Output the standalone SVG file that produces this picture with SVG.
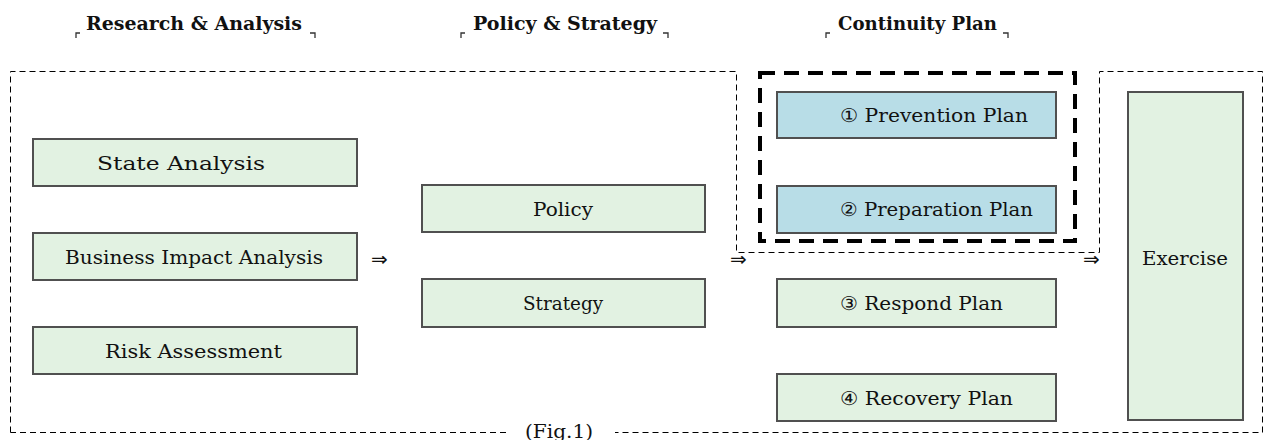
<svg xmlns="http://www.w3.org/2000/svg" width="1270" height="440" viewBox="0 0 1270 440">
<style>
.g{fill:#e2f2e2;stroke:#505050;stroke-width:2}
.b{fill:#b8dde7;stroke:#505050;stroke-width:2}
.t{font-family:"DejaVu Serif","Liberation Serif",serif;font-size:19px;fill:#111}
.h{font-family:"DejaVu Serif","Liberation Serif",serif;font-size:19px;font-weight:bold;fill:#111}
.thin{fill:none;stroke:#000;stroke-width:1;stroke-dasharray:6 4}
.thick{fill:none;stroke:#000;stroke-width:4;stroke-dasharray:15 9}
.br{fill:none;stroke:#333;stroke-width:1.3}
</style>
<rect width="1270" height="440" fill="#fff"/>
<g id="headers">
<text class="h" x="86" y="30" textLength="216" lengthAdjust="spacingAndGlyphs">Research &amp; Analysis</text>
<path class="br" d="M76,38 V33 H80 M310,33 H315 V38"/>
<text class="h" x="473" y="30" textLength="184" lengthAdjust="spacingAndGlyphs">Policy &amp; Strategy</text>
<path class="br" d="M461,38 V33 H465 M663,33 H668 V38"/>
<text class="h" x="838" y="30" textLength="159" lengthAdjust="spacingAndGlyphs">Continuity Plan</text>
<path class="br" d="M826,38 V33 H830 M1003,33 H1008 V38"/>
</g>
<g id="outline">
<path class="thin" d="M10.5,432.5 V71.5 H736.5 V252.5 H1099.5 V71.5 H1262.5 V432.5 H615"/>
<path class="thin" d="M506,432.5 H10.5"/>
<text class="t" x="525" y="438" textLength="68" lengthAdjust="spacingAndGlyphs">(Fig.1)</text>
</g>
<g id="continuity-group">
<rect class="thick" x="760" y="73" width="315" height="168"/>
</g>
<g id="state-analysis">
<rect class="g" x="33" y="139" width="324" height="47"/>
<text class="t" x="97" y="170" textLength="168" lengthAdjust="spacingAndGlyphs">State Analysis</text>
</g>
<g id="bia">
<rect class="g" x="33" y="233" width="324" height="47"/>
<text class="t" x="65" y="264" textLength="258" lengthAdjust="spacingAndGlyphs">Business Impact Analysis</text>
</g>
<g id="risk">
<rect class="g" x="33" y="327" width="324" height="47"/>
<text class="t" x="105" y="358" textLength="177" lengthAdjust="spacingAndGlyphs">Risk Assessment</text>
</g>
<g id="policy">
<rect class="g" x="422" y="185" width="283" height="47"/>
<text class="t" x="533" y="216" textLength="60" lengthAdjust="spacingAndGlyphs">Policy</text>
</g>
<g id="strategy">
<rect class="g" x="422" y="279" width="283" height="48"/>
<text class="t" x="523" y="310" textLength="80" lengthAdjust="spacingAndGlyphs">Strategy</text>
</g>
<g id="prevention">
<rect class="b" x="777" y="92" width="279" height="46"/>
<text class="t" x="840" y="122" textLength="188" lengthAdjust="spacingAndGlyphs">① Prevention  Plan</text>
</g>
<g id="preparation">
<rect class="b" x="777" y="186" width="279" height="47"/>
<text class="t" x="840" y="216" textLength="193" lengthAdjust="spacingAndGlyphs">② Preparation  Plan</text>
</g>
<g id="respond">
<rect class="g" x="777" y="279" width="279" height="48"/>
<text class="t" x="840" y="310" textLength="163" lengthAdjust="spacingAndGlyphs">③ Respond Plan</text>
</g>
<g id="recovery">
<rect class="g" x="777" y="374" width="279" height="47"/>
<text class="t" x="840" y="405" textLength="173" lengthAdjust="spacingAndGlyphs">④ Recovery Plan</text>
</g>
<g id="exercise">
<rect class="g" x="1128" y="92" width="115" height="328"/>
<text class="t" x="1142" y="265" textLength="86" lengthAdjust="spacingAndGlyphs">Exercise</text>
</g>
<g id="connectors" font-family="DejaVu Sans, sans-serif" font-size="20" fill="#111">
<text x="371" y="266">⇒</text>
<text x="730" y="266">⇒</text>
<text x="1083" y="266">⇒</text>
</g>
</svg>
